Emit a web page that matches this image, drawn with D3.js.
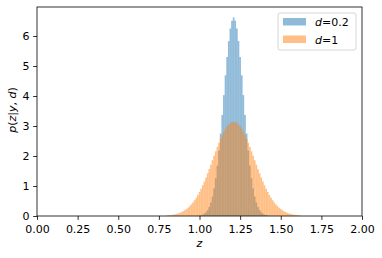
<!DOCTYPE html>
<html>
<head>
<meta charset="utf-8">
<script src="https://cdn.jsdelivr.net/npm/d3@7"></script>
<style>
  body { margin: 0; background: #fff; }
  text { font-family: "DejaVu Sans", sans-serif; font-size: 11px; fill: #000; }
</style>
</head>
<body>
<div id="chart"></div>
<script>
// histogram bins, width 0.01, first bin centre given below
var binWidth = 0.01;
var orangeFirst = 0.80;
var blueFirst = 1.00;

// d=1 histogram heights
var orangeValues = [
  0.017, 0.022, 0.028, 0.036, 0.045, 0.057, 0.070, 0.087, 0.107, 0.131,
  0.160, 0.193, 0.232, 0.276, 0.328, 0.386, 0.452, 0.527, 0.609, 0.701,
  0.800, 0.909, 1.026, 1.150, 1.282, 1.420, 1.563, 1.710, 1.860, 2.010,
  2.158, 2.303, 2.443, 2.575, 2.698, 2.808, 2.906, 2.988, 3.054, 3.101,
  3.130, 3.140, 3.130, 3.101, 3.054, 2.988, 2.906, 2.808, 2.698, 2.575,
  2.443, 2.303, 2.158, 2.010, 1.860, 1.710, 1.563, 1.420, 1.282, 1.150,
  1.026, 0.909, 0.800, 0.701, 0.609, 0.527, 0.452, 0.386, 0.328, 0.276,
  0.232, 0.193, 0.160, 0.131, 0.107, 0.087, 0.070, 0.057, 0.045, 0.036,
  0.028, 0.022, 0.017
];

// d=0.2 histogram heights
var blueValues = [
  0.016, 0.027, 0.047, 0.078, 0.126, 0.198, 0.30, 0.45, 0.65, 0.92,
  1.26, 1.68, 2.18, 2.75, 3.37, 4.03, 4.69, 5.30, 5.83, 6.25,
  6.51, 6.62, 6.51, 6.25, 5.83, 5.30, 4.69, 4.03, 3.37, 2.75,
  2.18, 1.68, 1.26, 0.92, 0.65, 0.45, 0.30, 0.198, 0.126, 0.078,
  0.047, 0.027, 0.016
];

var xTicks = [0, 0.25, 0.5, 0.75, 1, 1.25, 1.5, 1.75, 2];
var yTicks = [0, 1, 2, 3, 4, 5, 6];
var seriesNames = ["0.2", "1"];

var width = 382, height = 258;
var margin = { left: 37, right: 20, top: 7, bottom: 42 };
var plotW = width - margin.left - margin.right;
var plotH = height - margin.top - margin.bottom;

var blue = "#1f77b4", orange = "#ff7f0e";

var svg = d3.select("#chart").append("svg")
  .attr("width", width)
  .attr("height", height);

var x = d3.scaleLinear().domain([0, 2]).range([0, plotW]);
var y = d3.scaleLinear().domain([0, 6.967]).range([plotH, 0]);

var g = svg.append("g")
  .attr("transform", "translate(" + margin.left + "," + margin.top + ")");

function toBins(values, first) {
  return values.map(function(v, i) {
    var c = first + i * binWidth;
    return { x0: c - binWidth / 2, x1: c + binWidth / 2, v: v };
  });
}

function drawHist(bins, colour) {
  g.append("g")
    .selectAll("rect")
    .data(bins)
    .enter()
      .append("rect")
      .attr("x", function(d) { return x(d.x0); })
      .attr("width", function(d) { return x(d.x1) - x(d.x0); })
      .attr("y", function(d) { return y(d.v); })
      .attr("height", function(d) { return y(0) - y(d.v); })
      .attr("fill", colour)
      .attr("fill-opacity", 0.5);
}

drawHist(toBins(blueValues, blueFirst), blue);
drawHist(toBins(orangeValues, orangeFirst), orange);

// axes
var xAxis = d3.axisBottom(x)
  .tickValues(xTicks)
  .tickFormat(d3.format(".2f"))
  .tickSizeOuter(0)
  .tickSize(3.9)
  .tickPadding(5.5);
var yAxis = d3.axisLeft(y)
  .tickValues(yTicks)
  .tickFormat(d3.format("d"))
  .tickSizeOuter(0)
  .tickSize(3.9)
  .tickPadding(3.5);

g.append("g")
  .attr("transform", "translate(0," + plotH + ")")
  .call(xAxis);
g.append("g").call(yAxis);

g.selectAll(".tick line").attr("stroke", "#000").attr("stroke-width", 0.8);
g.selectAll(".domain").remove();
g.selectAll(".tick text").style("font-size", "11px").attr("fill", "#000");

// frame
g.append("rect")
  .attr("width", plotW)
  .attr("height", plotH)
  .attr("fill", "none")
  .attr("stroke", "#000")
  .attr("stroke-width", 0.8);

// axis labels
svg.append("text")
  .attr("x", margin.left + plotW / 2)
  .attr("y", 247)
  .attr("text-anchor", "middle")
  .style("font-style", "italic")
  .text("z");

var yl = svg.append("text")
  .attr("transform", "translate(16," + (margin.top + plotH / 2 - 1.5) + ") rotate(-90)")
  .attr("text-anchor", "middle");
yl.append("tspan").style("font-style", "italic").text("p");
yl.append("tspan").text("(");
yl.append("tspan").style("font-style", "italic").text("z");
yl.append("tspan").text("|");
yl.append("tspan").style("font-style", "italic").text("y");
yl.append("tspan").text(", ");
yl.append("tspan").style("font-style", "italic").text("d");
yl.append("tspan").text(")");

// legend
var legend = svg.append("g").attr("transform", "translate(278,13)");
legend.append("rect")
  .attr("width", 78)
  .attr("height", 37)
  .attr("rx", 2)
  .attr("fill", "#fff")
  .attr("fill-opacity", 0.8)
  .attr("stroke", "#cccccc")
  .attr("stroke-width", 0.8);

var items = legend.selectAll("g.item")
  .data(seriesNames)
  .enter()
    .append("g")
    .attr("class", "item")
    .attr("transform", function(d, i) { return "translate(5," + (5 + i * 17.5) + ")"; });

items.append("rect")
  .attr("width", 23)
  .attr("height", 7.5)
  .attr("fill", function(d, i) { return i === 0 ? blue : orange; })
  .attr("fill-opacity", 0.5);

var lt = items.append("text")
  .attr("x", 32)
  .attr("y", 8);
lt.append("tspan").style("font-style", "italic").text("d");
lt.append("tspan").text(function(d) { return "=" + d; });
</script>
</body>
</html>
